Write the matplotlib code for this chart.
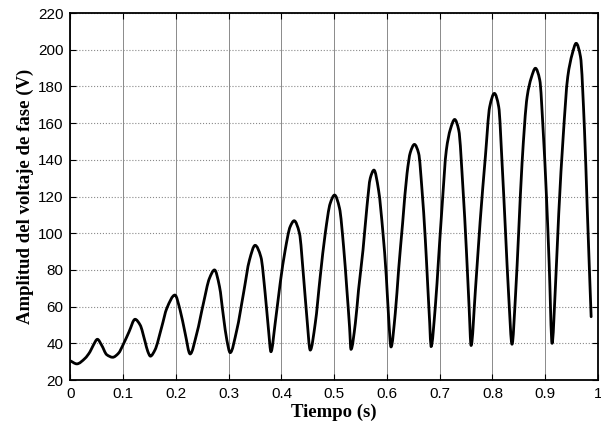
import numpy as np
import matplotlib
matplotlib.use("Agg")
import matplotlib.pyplot as plt
from matplotlib.path import Path
from matplotlib.patches import PathPatch

# Values (time in s, voltage in V)
tiempo = [0.000, 0.012, 0.0275, 0.037, 0.0433, 0.051, 0.059, 0.0687, 0.080, 0.0907,
          0.101, 0.111, 0.1224, 0.132, 0.1414, 0.1465, 0.1515, 0.160, 0.173, 0.1825,
          0.198, 0.2078, 0.2173, 0.2268, 0.2395, 0.252, 0.2634, 0.273, 0.2824, 0.290,
          0.2964, 0.3027, 0.3153, 0.328, 0.3393, 0.350, 0.361, 0.369, 0.3754, 0.380,
          0.388, 0.3975, 0.407, 0.4165, 0.424, 0.434, 0.4418, 0.448, 0.4545, 0.464,
          0.4734, 0.483, 0.4924, 0.5006, 0.510, 0.5177, 0.524, 0.529, 0.5317, 0.540,
          0.546, 0.5545, 0.562, 0.5683, 0.5753, 0.584, 0.5924, 0.5987, 0.603, 0.6076,
          0.6157, 0.622, 0.6296, 0.638, 0.6442, 0.652, 0.660, 0.6664, 0.6727, 0.677,
          0.681, 0.6835, 0.6916, 0.698, 0.7044, 0.7125, 0.720, 0.7283, 0.736, 0.7442,
          0.7505, 0.7556, 0.7594, 0.7676, 0.7765, 0.7865, 0.7947, 0.8036, 0.8118, 0.8182,
          0.8245, 0.8308, 0.8370, 0.8435, 0.8498, 0.856, 0.8657, 0.8733, 0.8814, 0.8896,
          0.896, 0.9023, 0.9074, 0.913, 0.919, 0.9256, 0.934, 0.9427, 0.951, 0.9586,
          0.9668, 0.9744, 0.9795, 0.9833, 0.987]
voltaje = [30.4, 28.8, 31.8, 35.4, 39.0, 42.2, 39.0, 33.8, 32.4, 34.5,
           40.0, 46.3, 53.1, 50.0, 40.9, 35.6, 33.0, 36.3, 49.0, 59.0,
           66.3, 58.1, 45.5, 34.2, 45.5, 61.8, 75.4, 80.0, 71.0, 54.5,
           41.8, 34.9, 47.3, 67.3, 85.4, 93.4, 87.0, 67.3, 47.3, 35.4,
           50.9, 72.7, 90.8, 103.6, 106.8, 100.0, 76.3, 54.5, 36.3, 50.9,
           76.3, 100.0, 116.3, 120.8, 113.6, 92.7, 69.0, 49.0, 36.7, 50.9,
           69.0, 90.8, 114.5, 130.0, 134.4, 123.5, 100.0, 76.3, 54.5, 38.0,
           56.4, 80.0, 105.4, 132.6, 144.0, 148.4, 143.5, 123.5, 96.3, 72.7,
           50.9, 38.2, 60.0, 87.2, 114.5, 145.3, 156.5, 162.0, 156.2, 123.5,
           90.8, 60.0, 38.8, 69.0, 106.0, 141.7, 168.9, 176.2, 168.9, 138.0,
           101.7, 65.4, 39.5, 65.4, 101.7, 138.0, 174.4, 184.5, 189.9, 183.5,
           156.2, 120.0, 83.6, 40.0, 69.0, 110.8, 152.6, 185.3, 197.5, 203.5,
           196.2, 156.2, 114.4, 83.6, 54.5]

x_ticks = [0, 0.1, 0.2, 0.3, 0.4, 0.5, 0.6, 0.7, 0.8, 0.9, 1]
x_labels = ["0", "0.1", "0.2", "0.3", "0.4", "0.5", "0.6", "0.7", "0.8", "0.9", "1"]
y_ticks = list(range(20, 221, 20))


def smooth_path(x, y):
    """Cubic Hermite (monotone slopes) drawn as Bezier segments through the points."""
    x = np.asarray(x, float)
    y = np.asarray(y, float)
    h = np.diff(x)
    d = np.diff(y) / h
    m = np.zeros_like(y)
    for i in range(1, len(y) - 1):
        if d[i - 1] * d[i] > 0:
            w1 = 2 * h[i] + h[i - 1]
            w2 = h[i] + 2 * h[i - 1]
            m[i] = (w1 + w2) / (w1 / d[i - 1] + w2 / d[i])
    m[0] = d[0]
    m[-1] = d[-1]
    verts = [(x[0], y[0])]
    codes = [Path.MOVETO]
    for i in range(len(x) - 1):
        verts += [(x[i] + h[i] / 3, y[i] + m[i] * h[i] / 3),
                  (x[i + 1] - h[i] / 3, y[i + 1] - m[i + 1] * h[i] / 3),
                  (x[i + 1], y[i + 1])]
        codes += [Path.CURVE4] * 3
    return Path(verts, codes)


fig = plt.figure(figsize=(6.01, 4.28), dpi=100)
ax = fig.add_axes([0.1173, 0.1121, 0.8777, 0.8575])

ax.add_patch(PathPatch(smooth_path(tiempo, voltaje), facecolor="none",
                       edgecolor="black", lw=2.0, capstyle="round", joinstyle="round",
                       zorder=3))

ax.set_xlim(0, 1)
ax.set_ylim(20, 220)
ax.set_xticks(x_ticks)
ax.set_xticklabels(x_labels)
ax.set_yticks(y_ticks)

ax.xaxis.grid(True, color="#8a8a8a", linestyle="-", linewidth=0.7)
ax.yaxis.grid(True, color="#8a8a8a", linestyle=":", linewidth=0.8)
ax.set_axisbelow(True)

for s in ax.spines.values():
    s.set_linewidth(1.3)
    s.set_color("black")

ax.tick_params(direction="in", top=True, right=True, length=4, width=0.8,
               labelsize=11, pad=5)
for lbl in ax.get_xticklabels() + ax.get_yticklabels():
    lbl.set_fontfamily("Liberation Sans")

ax.set_xlabel("Tiempo (s)", fontfamily="Liberation Serif", fontweight="bold",
              fontsize=13.5, labelpad=2)
ax.set_ylabel("Amplitud del voltaje de fase (V)", fontfamily="Liberation Serif",
              fontweight="bold", fontsize=13.5, labelpad=3)

fig.savefig("out.png", dpi=100)
